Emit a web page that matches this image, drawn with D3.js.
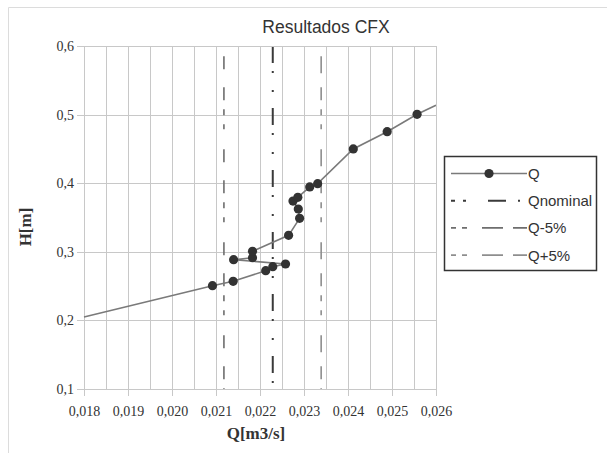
<!DOCTYPE html>
<html>
<head>
<meta charset="utf-8">
<script src="https://cdn.jsdelivr.net/npm/d3@7"></script>
<style>
  body { margin: 0; background: #fff; }
  svg { display: block; }
</style>
</head>
<body>
<svg width="608" height="453"></svg>
<script>
// Curve points (flow Q in m3/s, head H in m)
const qValues = [0.02092, 0.02139, 0.02213, 0.02229, 0.02258, 0.02140, 0.02183, 0.02183,
  0.02265, 0.02290, 0.02287, 0.02275, 0.02286, 0.02313, 0.02331, 0.02412, 0.02489, 0.02557];
const hValues = [0.2506, 0.2570, 0.2725, 0.2783, 0.2822, 0.2885, 0.2914, 0.3007,
  0.3240, 0.3488, 0.3624, 0.3740, 0.3794, 0.3945, 0.3993, 0.4499, 0.4751, 0.5004];

// line continues past the first and last marker
const lineStart = [0.018, 0.2050];
const lineEnd = [0.026, 0.5135];

// reference flows
const qNominal = 0.02229;
const qMinus5 = 0.02118;
const qPlus5 = 0.02339;
const refTop = 0.585;

const xTicks = [0.018, 0.019, 0.020, 0.021, 0.022, 0.023, 0.024, 0.025, 0.026];
const xMinor = [0.0185, 0.0195, 0.0205, 0.0215, 0.0225, 0.0235, 0.0245, 0.0255];
const yTicks = [0.1, 0.2, 0.3, 0.4, 0.5, 0.6];

const legendNames = ["Q", "Qnominal", "Q-5%", "Q+5%"];

const svg = d3.select("svg");
const comma = d3.formatLocale({ decimal: ",", thousands: ".", grouping: [3], currency: ["", ""] });

const x = d3.scaleLinear().domain([0.018, 0.026]).range([84, 436]);
const y = d3.scaleLinear().domain([0.1, 0.6]).range([389, 46]);

// outer frame (top and left only)
svg.append("path")
  .attr("d", "M8.5,453 V7.5 H607")
  .attr("fill", "none")
  .attr("stroke", "#dcdcdc");

// grid
const grid = svg.append("g").attr("stroke", "#c8c8c8").attr("stroke-width", 1);
grid.selectAll(".vmin").data(xMinor).enter().append("line")
  .attr("x1", d => Math.round(x(d)) + 0.5).attr("x2", d => Math.round(x(d)) + 0.5)
  .attr("y1", y(0.6)).attr("y2", y(0.1));
grid.selectAll(".vmaj").data(xTicks).enter().append("line")
  .attr("x1", d => Math.round(x(d)) + 0.5).attr("x2", d => Math.round(x(d)) + 0.5)
  .attr("y1", y(0.6)).attr("y2", y(0.1) + 7);
grid.selectAll(".h").data(yTicks).enter().append("line")
  .attr("x1", x(0.018) - 7).attr("x2", x(0.026))
  .attr("y1", d => Math.round(y(d)) + 0.5).attr("y2", d => Math.round(y(d)) + 0.5);

// axes (labels only, lines drawn by grid)
const xAxis = svg.append("g")
  .attr("transform", `translate(0,${y(0.1)})`)
  .call(d3.axisBottom(x).tickValues(xTicks).tickFormat(comma.format(".3f")).tickSize(0).tickPadding(17));
const yAxis = svg.append("g")
  .attr("transform", `translate(${x(0.018)},0)`)
  .call(d3.axisLeft(y).tickValues(yTicks).tickFormat(comma.format(".1f")).tickSize(0).tickPadding(10));
[xAxis, yAxis].forEach(a => {
  a.select(".domain").remove();
  a.selectAll("text")
    .attr("font-family", "'Liberation Serif', 'Times New Roman', serif")
    .attr("font-size", 14)
    .attr("fill", "#333");
});

// reference lines
const refs = [
  { q: qNominal, top: 0.6, color: "#3a3a3a", width: 2, dash: "17,8,2,17,2,16" },
  { q: qMinus5, top: refTop, color: "#6e6e6e", width: 1.6, dash: "13,18,13,9,6,9,5,20" },
  { q: qPlus5, top: refTop, color: "#8e8e8e", width: 1.6, dash: "17,14,13,9,6,9,5,20" }
];
svg.append("g").selectAll("line").data(refs).enter().append("line")
  .attr("x1", d => x(d.q)).attr("x2", d => x(d.q))
  .attr("y1", d => y(d.top)).attr("y2", y(0.1))
  .attr("stroke", d => d.color)
  .attr("stroke-width", d => d.width)
  .attr("stroke-dasharray", d => d.dash);

// curve
const pts = qValues.map((q, i) => [q, hValues[i]]);
const linePts = [lineStart, ...pts, lineEnd];
svg.append("path")
  .datum(linePts)
  .attr("d", d3.line().x(d => x(d[0])).y(d => y(d[1])))
  .attr("fill", "none")
  .attr("stroke", "#7a7a7a")
  .attr("stroke-width", 1.6);
svg.append("g").selectAll("circle").data(pts).enter().append("circle")
  .attr("cx", d => x(d[0])).attr("cy", d => y(d[1]))
  .attr("r", 4.6)
  .attr("fill", "#333");

// plot frame right/top
svg.append("path")
  .attr("d", `M${x(0.018)},${Math.round(y(0.6)) + 0.5} H${Math.round(x(0.026)) + 0.5} V${y(0.1)}`)
  .attr("fill", "none")
  .attr("stroke", "#c8c8c8");

// titles
svg.append("text")
  .attr("x", 326).attr("y", 33)
  .attr("text-anchor", "middle")
  .attr("font-family", "'Liberation Sans', Arial, sans-serif")
  .attr("font-size", 17.5)
  .attr("fill", "#333")
  .text("Resultados CFX");
svg.append("text")
  .attr("x", 256).attr("y", 439)
  .attr("text-anchor", "middle")
  .attr("font-family", "'Liberation Serif', 'Times New Roman', serif")
  .attr("font-weight", "bold")
  .attr("font-size", 17)
  .attr("fill", "#333")
  .text("Q[m3/s]");
svg.append("text")
  .attr("transform", "translate(31,227) rotate(-90)")
  .attr("text-anchor", "middle")
  .attr("font-family", "'Liberation Serif', 'Times New Roman', serif")
  .attr("font-weight", "bold")
  .attr("font-size", 17)
  .attr("fill", "#333")
  .text("H[m]");

// legend
const legend = svg.append("g");
legend.append("rect")
  .attr("x", 444.5).attr("y", 156.5).attr("width", 152).attr("height", 114)
  .attr("fill", "#fff").attr("stroke", "#333").attr("stroke-width", 1.5);
const legendStyle = [
  { color: "#7a7a7a", width: 1.6, dash: null },
  { color: "#3a3a3a", width: 2, dash: "4,8,3,22,18,12,2,10" },
  { color: "#6e6e6e", width: 1.6, dash: "5,6,5,15,21,10,14" },
  { color: "#8e8e8e", width: 1.6, dash: "5,6,5,15,21,10,14" }
];
const rows = legend.selectAll("g.row").data(legendNames).enter().append("g")
  .attr("transform", (d, i) => `translate(0,${173.5 + i * 27.2})`);
rows.append("line")
  .attr("x1", 451).attr("x2", 527)
  .attr("stroke", (d, i) => legendStyle[i].color)
  .attr("stroke-width", (d, i) => legendStyle[i].width)
  .attr("stroke-dasharray", (d, i) => legendStyle[i].dash);
rows.filter((d, i) => i === 0).append("circle")
  .attr("cx", 489).attr("r", 4.6).attr("fill", "#333");
rows.append("text")
  .attr("x", 528).attr("dy", "0.36em")
  .attr("font-family", "'Liberation Sans', Arial, sans-serif")
  .attr("font-size", 15)
  .attr("fill", "#333")
  .text(d => d);
</script>
</body>
</html>
